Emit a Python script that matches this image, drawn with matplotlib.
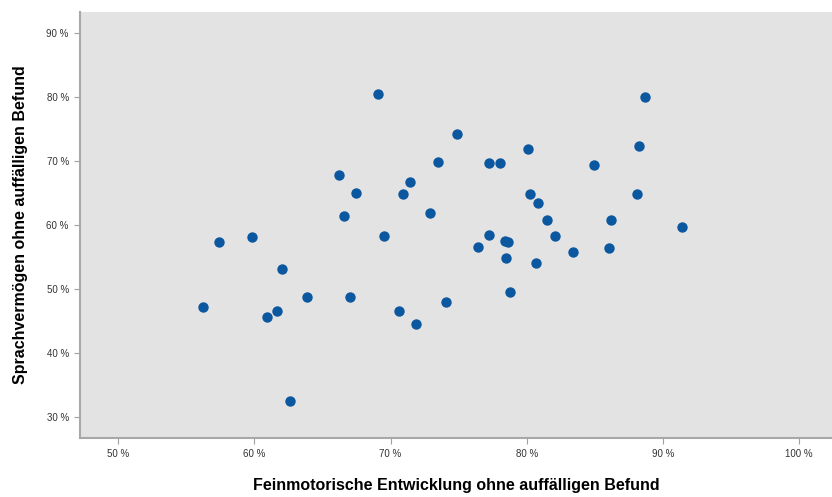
import matplotlib
matplotlib.use("Agg")
import matplotlib.pyplot as plt
from matplotlib.ticker import FuncFormatter

# ── Data (percent values) ────────────────────────────────────────────────────
feinmotorik = [
    56.2, 57.4, 59.8, 62.0, 60.9, 61.7, 62.6, 63.9, 67.0, 66.2,
    66.6, 67.5, 69.1, 69.5, 70.6, 71.9, 70.9, 71.4, 72.9, 73.5,
    74.9, 74.1, 76.4, 77.2, 77.2, 78.0, 78.4, 78.6, 78.5, 78.8,
    80.1, 80.2, 80.8, 80.7, 81.5, 82.1, 83.4, 84.9, 86.0, 86.2,
    88.1, 88.2, 88.7, 91.4,
]
sprache = [
    47.1, 57.3, 58.1, 53.1, 45.6, 46.5, 32.4, 48.7, 48.7, 67.8,
    61.4, 65.0, 80.5, 58.2, 46.5, 44.5, 64.8, 66.7, 61.8, 69.8,
    74.2, 47.9, 56.5, 58.4, 69.7, 69.7, 57.5, 57.3, 54.8, 49.5,
    71.8, 64.8, 63.4, 54.0, 60.7, 58.2, 55.8, 69.3, 56.4, 60.7,
    64.8, 72.3, 80.0, 59.6,
]
x_ticks = [50, 60, 70, 80, 90, 100]
y_ticks = [30, 40, 50, 60, 70, 80, 90]

X_LABEL = "Feinmotorische Entwicklung ohne auffälligen Befund"
Y_LABEL = "Sprachvermögen ohne auffälligen Befund"

plt.rcParams["font.family"] = ["Liberation Sans", "DejaVu Sans"]

fig = plt.figure(figsize=(8.32, 4.97), dpi=100)
ax = fig.add_axes([0.096, 0.119, 0.904, 0.857])
ax.set_facecolor("#e3e3e3")

ax.scatter(feinmotorik, sprache, s=56, color="#0b57a0", linewidths=0, zorder=3)

ax.set_xlim(47.2, 102.4)
ax.set_ylim(26.7, 93.3)
ax.set_xticks(x_ticks)
ax.set_yticks(y_ticks)
pct = FuncFormatter(lambda v, _: f"{v:.0f} %")
ax.xaxis.set_major_formatter(pct)
ax.yaxis.set_major_formatter(pct)
ax.tick_params(axis="both", direction="out", length=4, width=0.8,
               color="#a0a0a0", labelsize=7, labelcolor="#333333", pad=4)

for side in ("top", "right"):
    ax.spines[side].set_visible(False)
for side in ("left", "bottom"):
    ax.spines[side].set_color("#a8a8a8")
    ax.spines[side].set_linewidth(1.5)

ax.set_xlabel(X_LABEL, fontsize=11.5, fontweight="bold", labelpad=14)
ax.set_ylabel(Y_LABEL, fontsize=11.5, fontweight="bold", labelpad=13)

fig.savefig("out.png", dpi=100)
